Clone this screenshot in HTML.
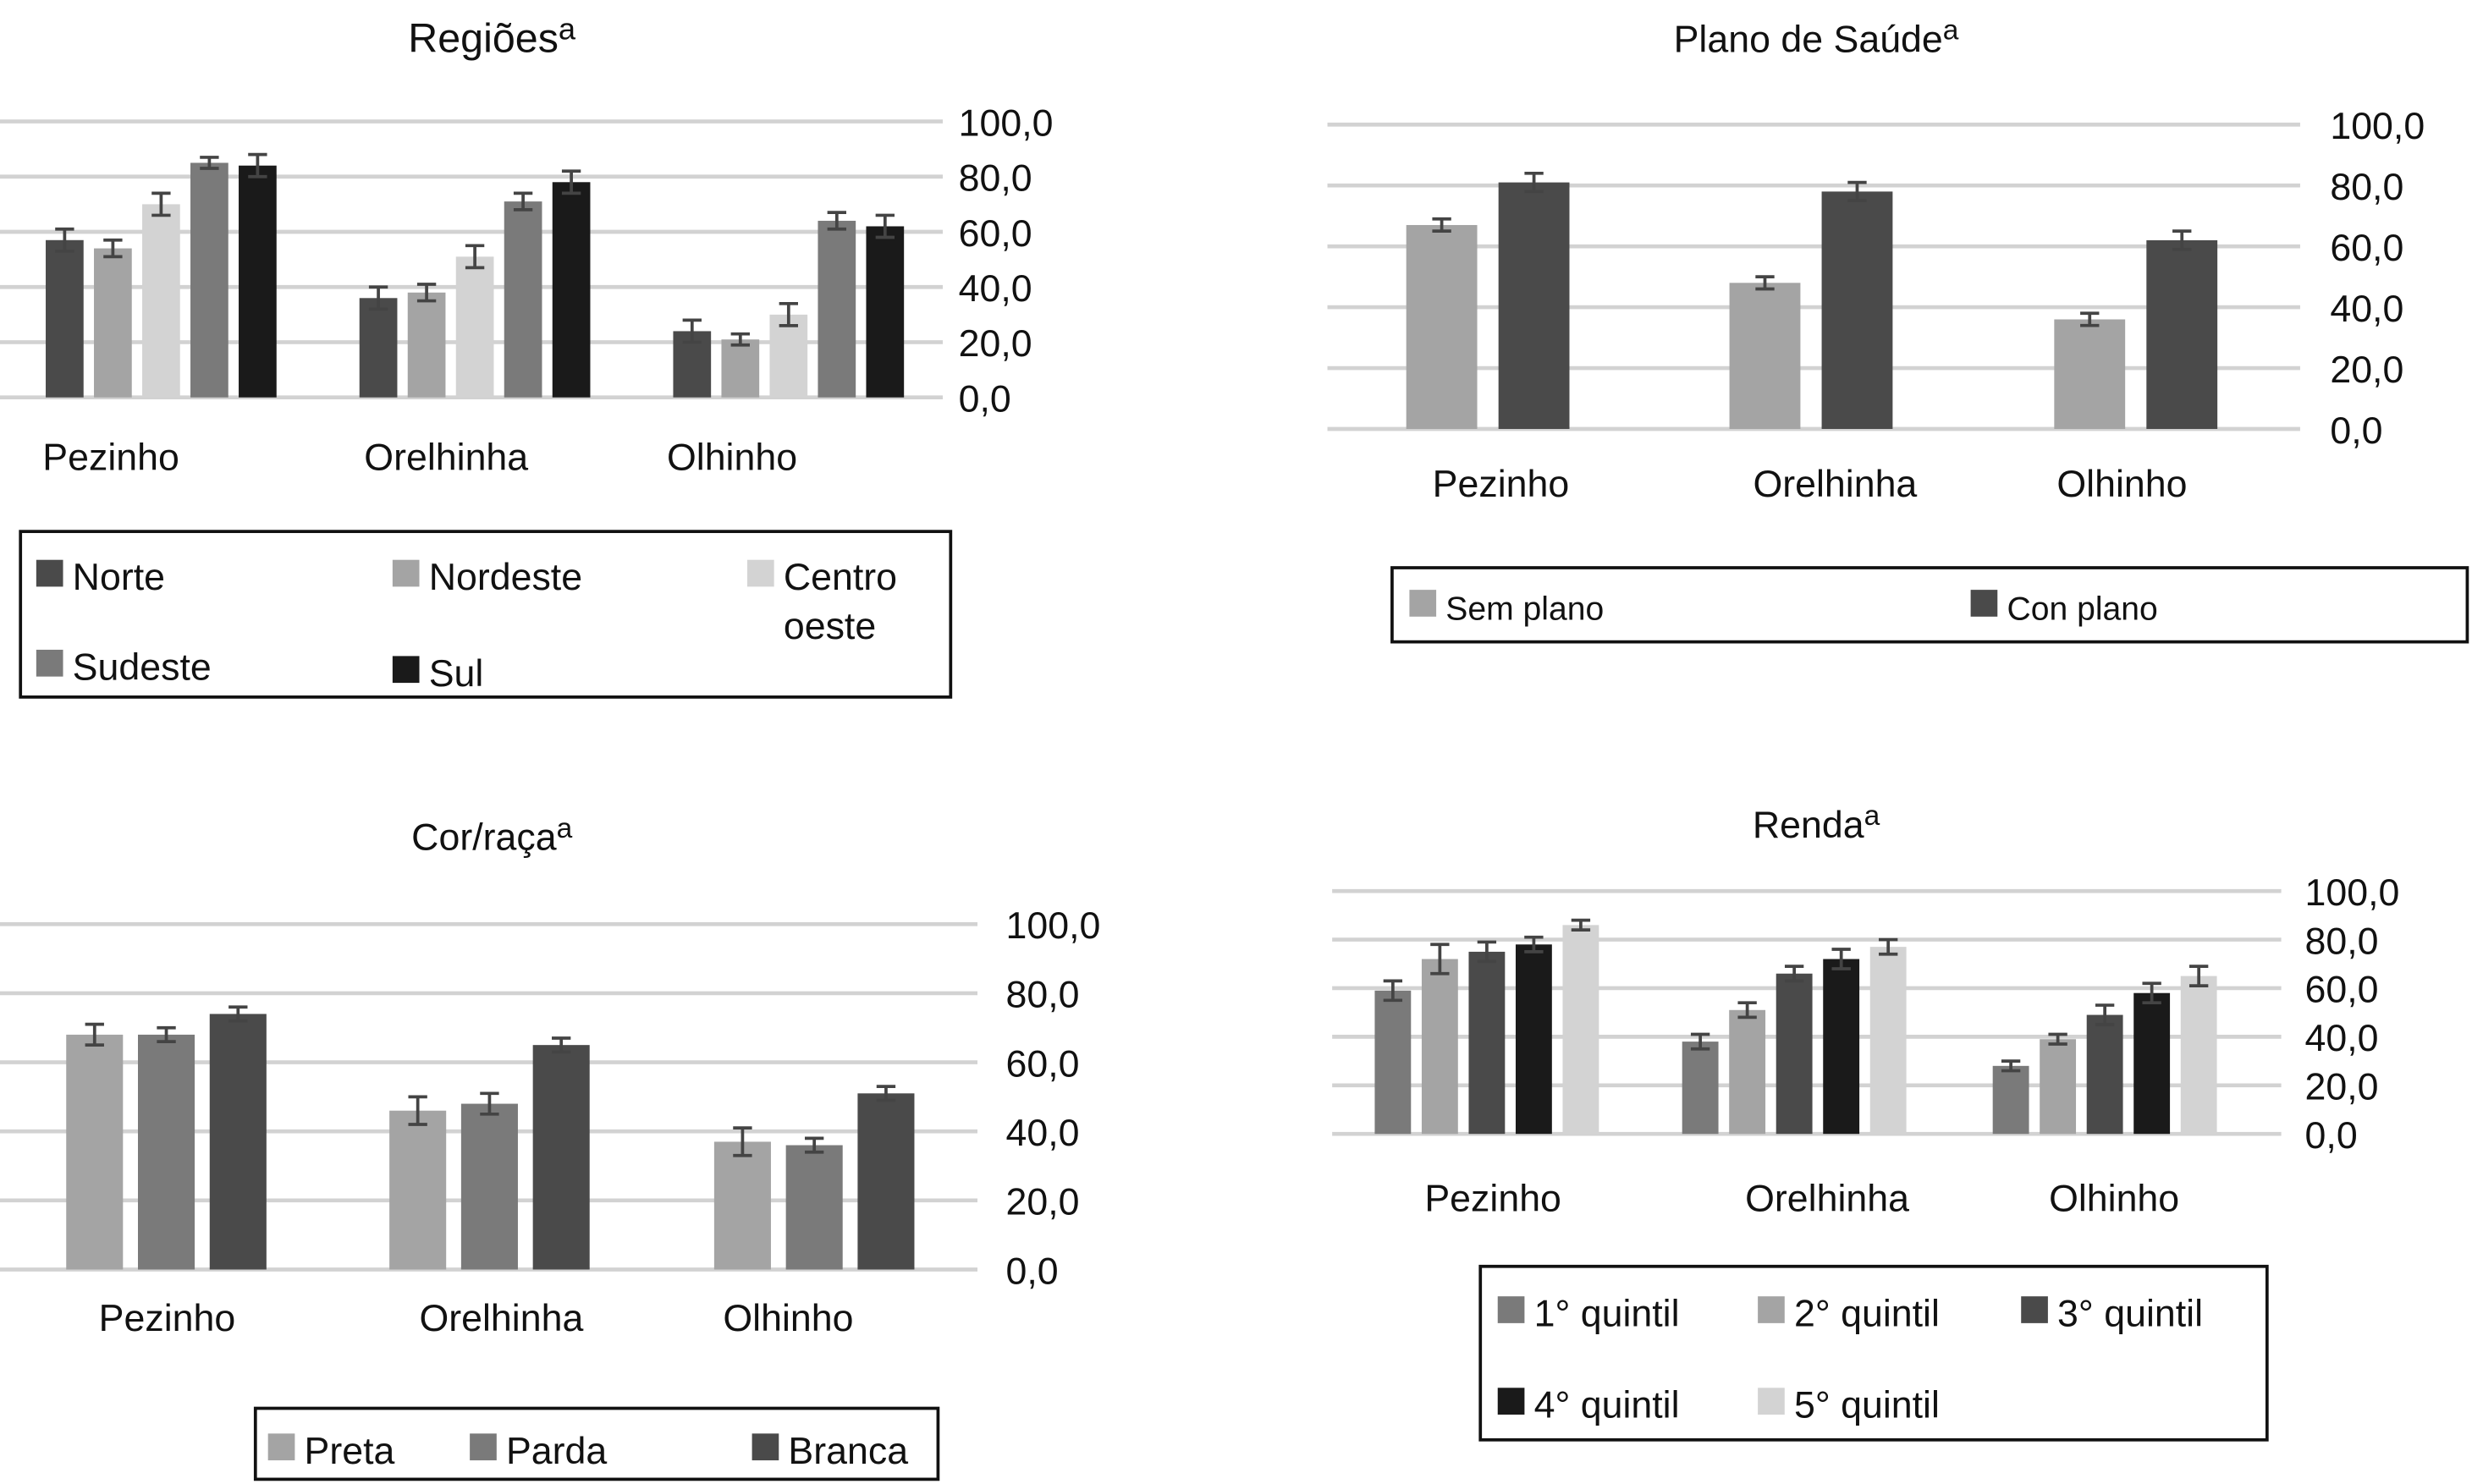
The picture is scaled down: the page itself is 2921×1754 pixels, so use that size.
<!DOCTYPE html>
<html><head><meta charset="utf-8"><style>
html,body{margin:0;padding:0;background:#fff;}
svg{display:block;font-family:"Liberation Sans",Arial,sans-serif;}
</style></head><body>
<svg id="fig" width="2921" height="1754" viewBox="0 0 1568 941" preserveAspectRatio="none" xmlns="http://www.w3.org/2000/svg">
<g id="c1"></g>
<g id="c2"></g>
<g id="c3"></g>
<g id="c4"></g>
</svg>
<script>
const categories = ["Pezinho","Orelhinha","Olhinho"];
const tickLabels = ["0,0","20,0","40,0","60,0","80,0","100,0"];
const tickValues = [0,20,40,60,80,100];

// Regiões
const regSeries = ["Norte","Nordeste","Centro oeste","Sudeste","Sul"];
const regNorte = [57,36,24];
const regNordeste = [54,38,21];
const regCentro = [70,51,30];
const regSudeste = [85,71,64];
const regSul = [84,78,62];
const regErr = [[4,4,4],[3,3,2],[4,4,4],[2,3,3],[4,4,4]];

// Plano de saúde
const planoSeries = ["Sem plano","Con plano"];
const planoSem = [67,48,36];
const planoCon = [81,78,62];
const planoErr = [[2,2,2],[3,3,3]];

// Cor/raça
const corSeries = ["Preta","Parda","Branca"];
const corPreta = [68,46,37];
const corParda = [68,48,36];
const corBranca = [74,65,51];
const corErr = [[3,4,4],[2,3,2],[2,2,2]];

// Renda
const rendaSeries = ["1° quintil","2° quintil","3° quintil","4° quintil","5° quintil"];
const renda1 = [59,38,28];
const renda2 = [72,51,39];
const renda3 = [75,66,49];
const renda4 = [78,72,58];
const renda5 = [86,77,65];
const rendaErr = [[4,3,2],[6,3,2],[4,3,4],[3,4,4],[2,3,4]];

const NS="http://www.w3.org/2000/svg";
function mk(parent,tag,attrs){const e=document.createElementNS(NS,tag);for(const k in attrs)e.setAttribute(k,attrs[k]);parent.appendChild(e);return e;}

function drawChart(g,cfg,values,errs,colors){
  const y=v=>cfg.y0+(cfg.y100-cfg.y0)*v/100;
  const t=mk(g,"text",{x:cfg.titleX,y:cfg.titleY,"text-anchor":"middle","font-size":cfg.titleSize,fill:"#111"});
  
  
  t.textContent=cfg.title;
  const sup=mk(t,"tspan",{dy:-8,"font-size":cfg.titleSize*0.75});sup.textContent="a";
  tickValues.forEach((v,i)=>{
    const l=mk(g,"line",{x1:cfg.gx0,x2:cfg.gx1,y1:y(v),y2:y(v),stroke:"#d2d2d2","stroke-width":2.5});
    
    
    const tx=mk(g,"text",{x:cfg.labX,y:y(v)+9,"font-size":cfg.tickSize,fill:"#111"});
    
    
    tx.textContent=tickLabels[i];
  });
  categories.forEach((c,ci)=>{
    values.forEach((ser,si)=>{
      const x=cfg.groupX[ci]+si*cfg.step;
      const v=ser[ci];
      const r=mk(g,"rect",{x:x,y:y(v),width:cfg.bw,height:y(0)-y(v),fill:colors[si]});
      
      
      const e=errs[si][ci];const cx=x+cfg.bw/2;
      const eb=mk(g,"path",{d:`M${cx-6},${y(v+e)}H${cx+6}M${cx},${y(v+e)}V${y(v-e)}M${cx-6},${y(v-e)}H${cx+6}`,stroke:"#444","stroke-width":2,fill:"none"});
      
      
    });
    const ct=mk(g,"text",{x:cfg.catX[ci],y:cfg.catY,"text-anchor":cfg.catAnchor,"font-size":cfg.catSize,fill:"#111"});
    
    
    ct.textContent=c;
  });
  const lb=mk(g,"rect",{x:cfg.leg[0],y:cfg.leg[1],width:cfg.leg[2],height:cfg.leg[3],fill:"none",stroke:"#111","stroke-width":2});
  
  
  cfg.legItems.forEach((it,i)=>{
    const sw=mk(g,"rect",{x:it[0],y:it[1]-cfg.legSw+2,width:cfg.legSw,height:cfg.legSw,fill:colors[i]});
    
    
    const lt=mk(g,"text",{x:it[0]+cfg.legSw+6,y:it[1]+4,"font-size":cfg.legSize,fill:"#111"});
    
    
    const lines=(it[2]||cfg.series[i]).split("\n");
    lines.forEach((s,j)=>{const ts=mk(lt,"tspan",{x:it[0]+cfg.legSw+6,dy:j?31:0});ts.textContent=s;});
  });
}

drawChart(document.getElementById("c1"),{title:"Regiões",titleX:312,titleY:33,titleSize:26,y0:252,y100:77,gx0:0,gx1:598,labX:608,tickSize:24,
  groupX:[29,228,427],step:30.6,bw:24,catX:[27,231,423],catY:298,catAnchor:"start",catSize:24,
  leg:[13,337,590,105],legSw:17,legSize:24,series:regSeries,
  legItems:[[23,370],[249,370],[474,370,"Centro\noeste"],[23,427],[249,431]]},
  [regNorte,regNordeste,regCentro,regSudeste,regSul],regErr,["#4a4a4a","#a4a4a4","#d3d3d3","#7a7a7a","#1a1a1a"]);

drawChart(document.getElementById("c2"),{title:"Plano de Saúde",titleX:1152,titleY:33,titleSize:24,y0:272,y100:79,gx0:842,gx1:1459,labX:1478,tickSize:24,
  groupX:[892,1097,1303],step:58.5,bw:45,catX:[952,1164,1346],catY:315,catAnchor:"middle",catSize:24,
  leg:[883,360,682,47],legSw:17,legSize:21,series:planoSeries,
  legItems:[[894,389],[1250,389]]},
  [planoSem,planoCon],planoErr,["#a4a4a4","#4a4a4a"]);

drawChart(document.getElementById("c3"),{title:"Cor/raça",titleX:312,titleY:539,titleSize:24,y0:805,y100:586,gx0:0,gx1:620,labX:638,tickSize:24,
  groupX:[42,247,453],step:45.5,bw:36,catX:[106,318,500],catY:844,catAnchor:"middle",catSize:24,
  leg:[162,893,433,45],legSw:17,legSize:24,series:corSeries,
  legItems:[[170,924],[298,924],[477,924]]},
  [corPreta,corParda,corBranca],corErr,["#a4a4a4","#7a7a7a","#4a4a4a"]);

drawChart(document.getElementById("c4"),{title:"Renda",titleX:1152,titleY:531,titleSize:24,y0:719,y100:565,gx0:845,gx1:1447,labX:1462,tickSize:24,
  groupX:[872,1067,1264],step:29.8,bw:23,catX:[947,1159,1341],catY:768,catAnchor:"middle",catSize:24,
  leg:[939,803,499,110],legSw:17,legSize:24,series:rendaSeries,
  legItems:[[950,837,"1° quintil"],[1115,837,"2°  quintil"],[1282,837,"3° quintil"],[950,895,"4° quintil"],[1115,895,"5° quintil"]]},
  [renda1,renda2,renda3,renda4,renda5],rendaErr,["#7a7a7a","#a4a4a4","#4a4a4a","#1a1a1a","#d3d3d3"]);
</script>
</body></html>
